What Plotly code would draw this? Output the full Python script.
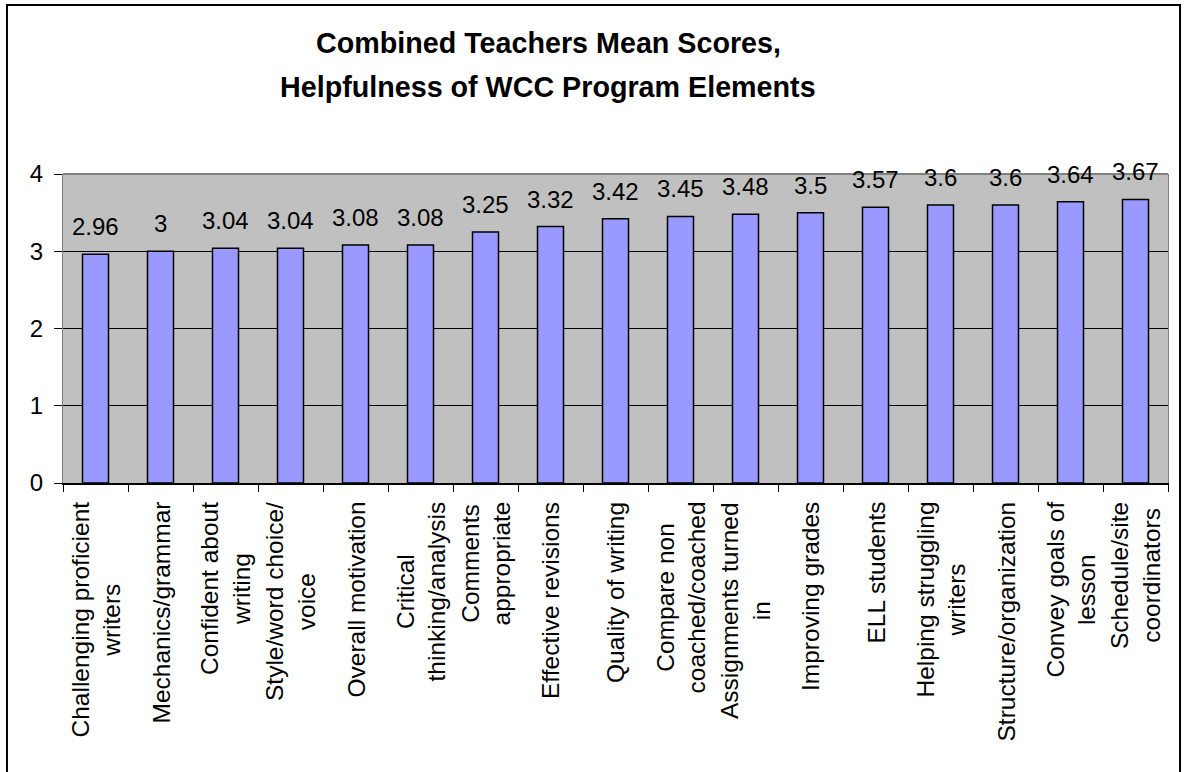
import plotly.graph_objects as go

categories = [
    "Challenging proficient<br>writers",
    "Mechanics/grammar",
    "Confident about<br>writing",
    "Style/word choice/<br>voice",
    "Overall motivation",
    "Critical<br>thinking/analysis",
    "Comments<br>appropriate",
    "Effective revisions",
    "Quality of writing",
    "Compare non<br>coached/coached",
    "Assignments turned<br>in",
    "Improving grades",
    "ELL students",
    "Helping struggling<br>writers",
    "Structure/organization",
    "Convey goals of<br>lesson",
    "Schedule/site<br>coordinators",
]
mean_scores = [2.96, 3, 3.04, 3.04, 3.08, 3.08, 3.25, 3.32, 3.42, 3.45,
               3.48, 3.5, 3.57, 3.6, 3.6, 3.64, 3.67]
score_labels = ["2.96", "3", "3.04", "3.04", "3.08", "3.08", "3.25", "3.32",
                "3.42", "3.45", "3.48", "3.5", "3.57", "3.6", "3.6", "3.64", "3.67"]
y_ticks = [0, 1, 2, 3, 4]
title_lines = ["Combined Teachers Mean Scores,", "Helpfulness of WCC Program Elements"]

FONT = "Arial, Liberation Sans, sans-serif"

fig = go.Figure()
fig.add_trace(go.Bar(
    x=categories, y=mean_scores, width=0.4,
    marker=dict(color="#9999FF", line=dict(color="black", width=1.5)),
    hoverinfo="x+y",
))

annotations = []
for c, v, t in zip(categories, mean_scores, score_labels):
    annotations.append(dict(x=c, y=v, xref="x", yref="y", text=t, showarrow=False,
                            yanchor="bottom", xanchor="center", yshift=12,
                            font=dict(family=FONT, size=24, color="black")))
for c in categories:
    annotations.append(dict(x=c, y=0, xref="x", yref="paper", text=c, showarrow=False,
                            textangle=-90, align="center", yanchor="top", xanchor="center",
                            yshift=-17, font=dict(family=FONT, size=24.5, color="black")))
for i, (line, yp) in enumerate(zip(title_lines, [1.425, 1.283])):
    annotations.append(dict(x=0.439, y=yp, xref="paper", yref="paper", text="<b>%s</b>" % line,
                            showarrow=False, xanchor="center", yanchor="middle",
                            font=dict(family=FONT, size=28.7, color="black")))

fig.update_layout(
    width=1187, height=772,
    margin=dict(l=63, r=19, t=174, b=289),
    paper_bgcolor="white", plot_bgcolor="#C0C0C0",
    showlegend=False,
    font=dict(family=FONT, size=22, color="black"),
    annotations=annotations,
    xaxis=dict(type="category", showticklabels=False, ticks="outside", ticklen=7,
               tickson="boundaries", tickcolor="black", showline=True, linecolor="black",
               linewidth=1.5, showgrid=False, fixedrange=True),
    yaxis=dict(range=[0, 4], tickvals=y_ticks, ticks="outside", ticklen=8, tickcolor="black",
               ticklabelstandoff=6,
               showgrid=True, gridcolor="black", gridwidth=1, showline=True,
               linecolor="#808080", mirror=True, zeroline=False, fixedrange=True,
               tickfont=dict(family=FONT, size=24, color="black")),
    shapes=[
        dict(type="rect", xref="paper", yref="paper", x0=-0.0507, x1=1.0109,
             y0=-0.97, y1=1.547, line=dict(color="black", width=2), fillcolor="rgba(0,0,0,0)"),
        dict(type="line", xref="paper", yref="paper", x0=0, x1=1, y0=1, y1=1,
             line=dict(color="#808080", width=2)),
    ],
)

fig.write_html("out.html", config={"displayModeBar": False},
               post_script="document.body.style.margin='0';document.body.style.overflow='hidden';")
